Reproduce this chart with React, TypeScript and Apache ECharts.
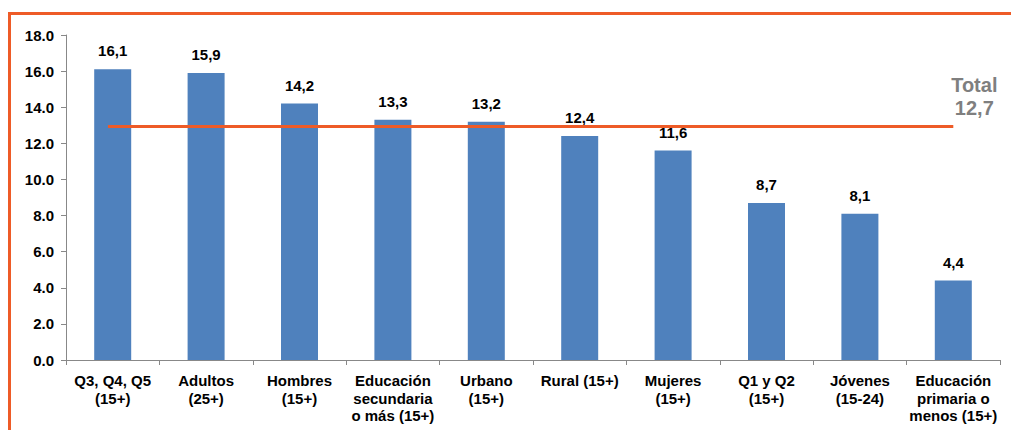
import React, { useEffect, useRef } from "react";
import * as echarts from "echarts";

const categories = [
  "Q3, Q4, Q5\n(15+)",
  "Adultos\n(25+)",
  "Hombres\n(15+)",
  "Educación\nsecundaria\no más (15+)",
  "Urbano\n(15+)",
  "Rural (15+)",
  "Mujeres\n(15+)",
  "Q1 y Q2\n(15+)",
  "Jóvenes\n(15-24)",
  "Educación\nprimaria o\nmenos (15+)",
];
const values = [16.1, 15.9, 14.2, 13.3, 13.2, 12.4, 11.6, 8.7, 8.1, 4.4];
// value printed in the label, and the level at which the line is drawn in the picture
const totalValue = 12.7;
const totalLineLevel = 12.95;
const totalLabel = "Total";

const FONT = "'Liberation Sans', Arial, sans-serif";
const ORANGE = "#EE5B27";

export default function App() {
  const ref = useRef<HTMLDivElement>(null);
  useEffect(() => {
    if (!ref.current) return;
    const chart = echarts.init(ref.current, null, { renderer: "svg" });
    chart.setOption({
      animation: false,
      textStyle: { fontFamily: FONT },
      grid: { left: 66, right: 11, top: 35, bottom: 70, containLabel: false },
      graphic: [
        { type: "line", shape: { x1: 9.5, y1: 13.5, x2: 1011, y2: 13.5 }, style: { stroke: ORANGE, lineWidth: 3 } },
        { type: "line", shape: { x1: 9.5, y1: 12, x2: 9.5, y2: 430 }, style: { stroke: ORANGE, lineWidth: 3 } },
      ],
      xAxis: {
        type: "category",
        data: categories,
        axisLine: { lineStyle: { color: "#888888", width: 1 } },
        axisTick: { show: true, alignWithLabel: false, length: 5, lineStyle: { color: "#888888" } },
        axisLabel: {
          interval: 0,
          color: "#000",
          fontWeight: "bold",
          fontSize: 15,
          lineHeight: 17.5,
          fontFamily: FONT,
          margin: 12,
        },
      },
      yAxis: {
        type: "value",
        min: 0,
        max: 18,
        interval: 2,
        splitLine: { show: false },
        axisLine: { show: true, lineStyle: { color: "#888888", width: 1 } },
        axisTick: { show: true, length: 5, lineStyle: { color: "#888888" } },
        axisLabel: {
          color: "#000",
          fontWeight: "bold",
          fontSize: 15,
          fontFamily: FONT,
          margin: 12,
          formatter: (v: number) => v.toFixed(1),
        },
      },
      series: [
        {
          type: "bar",
          data: values,
          barWidth: 37,
          itemStyle: { color: "#4F81BD" },
          label: {
            show: true,
            position: "top",
            distance: 11,
            color: "#000",
            fontWeight: "bold",
            fontSize: 15,
            fontFamily: FONT,
            formatter: (p: any) => String(p.value.toFixed(1)).replace(".", ","),
          },
          markLine: {
            silent: true,
            symbol: ["none", "none"],
            lineStyle: { color: ORANGE, width: 3, type: "solid" },
            label: {
              show: true,
              position: "end",
              formatter: totalLabel + "\n" + totalValue.toFixed(1).replace(".", ","),
              color: "#7F7F7F",
              fontWeight: "bold",
              fontSize: 20,
              lineHeight: 23,
              fontFamily: FONT,
              align: "center",
              offset: [16, -30],
            },
            data: [
              [
                { coord: [0, totalLineLevel], x: 108 },
                { coord: [9, totalLineLevel] },
              ],
            ],
          },
        },
      ],
    });
    return () => chart.dispose();
  }, []);
  return <div ref={ref} style={{ width: 1011, height: 430, position: "absolute", left: 0, top: 0 }} />;
}
